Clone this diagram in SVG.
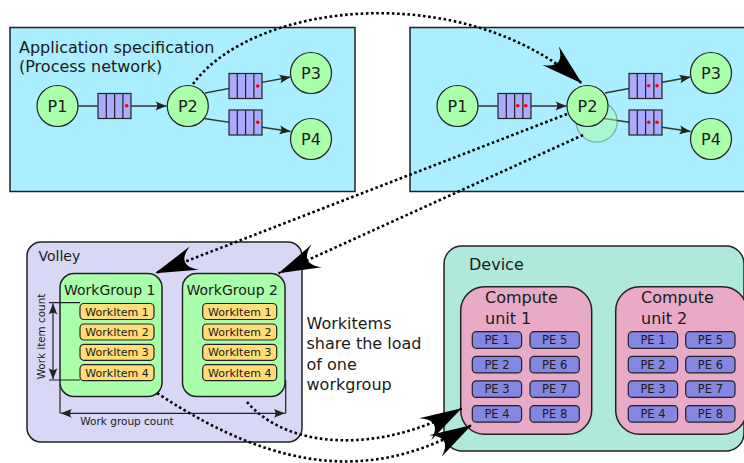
<svg xmlns="http://www.w3.org/2000/svg" xmlns:xlink="http://www.w3.org/1999/xlink" width="744" height="463" viewBox="0 0 744 463">
  <style>
    text { font-family: "DejaVu Sans", "Liberation Sans", sans-serif; fill: #1a1a1a; }
    .panel { fill: #aaeeff; stroke: #222; stroke-width: 1.5; }
    .proc { fill: #aaffaa; stroke: #222; stroke-width: 1.2; }
    .ghost { fill: #aaffaa; fill-opacity: 0.5; stroke: #222; stroke-opacity: 0.35; stroke-width: 1.2; }
    .qbox { fill: #aaaaff; stroke: #222; stroke-width: 1.2; }
    .token { fill: #ff0000; }
    .link { fill: none; stroke: #333; stroke-width: 1.3; }
    .dots { fill: none; stroke: #000; stroke-width: 2.6; stroke-dasharray: 2.6 2.6; }
    .volley { fill: #d8d8f6; stroke: #222; stroke-width: 1.5; }
    .wg { fill: #aaffaa; stroke: #222; stroke-width: 1.5; }
    .wi { fill: #ffdd77; stroke: #222; stroke-width: 1.2; }
    .device { fill: #aee9dc; stroke: #222; stroke-width: 1.5; }
    .cu { fill: #e8aac6; stroke: #222; stroke-width: 1.5; }
    .pe { fill: #8585e2; stroke: #222; stroke-width: 1.2; }
    .guide { fill: none; stroke: #222; stroke-width: 1.2; }
    .t16 { font-size: 16px; }
    .t14 { font-size: 14px; }
    .wit { font-size: 11px; text-anchor: middle; }
    .pet { font-size: 11.5px; text-anchor: middle; }
    .proct { font-size: 16px; text-anchor: middle; }
  </style>
  <defs>
    <!-- small concave arrowhead for the process links and measure lines -->
    <marker id="small" viewBox="-12 -5 13 10" refX="0" refY="0" markerWidth="13" markerHeight="10" markerUnits="userSpaceOnUse" orient="auto-start-reverse">
      <path d="M0,0 L-11,-4.4 Q-7.5,0 -11,4.4 Z" fill="#222"/>
    </marker>
    <!-- large concave arrowhead for the dotted mapping arrows -->
    <marker id="big" viewBox="-44 -14 46 28" refX="0" refY="0" markerWidth="46" markerHeight="28" markerUnits="userSpaceOnUse" orient="auto">
      <path d="M0,0 L-42,-12.5 Q-22,0 -42,12.5 Z" fill="#000"/>
    </marker>
    <!-- FIFO queue: four slots -->
    <g id="queue">
      <rect class="qbox" x="0" y="0" width="33" height="25"/>
      <path d="M8.3,0 V25 M16.6,0 V25 M24.9,0 V25" stroke="#222" stroke-width="1.2"/>
    </g>
  </defs>

  <!-- Application specification panel -->
  <g id="spec">
    <rect class="panel" x="10" y="27.5" width="345" height="164"/>
    <text class="t16" x="19" y="53">Application specification</text>
    <text class="t16" x="19" y="72">(Process network)</text>
    <path class="link" d="M78,106 H166.5" marker-end="url(#small)"/>
    <path class="link" d="M205,93 L290.5,77" marker-end="url(#small)"/>
    <path class="link" d="M204,118.5 L290.5,131.5" marker-end="url(#small)"/>
    <use xlink:href="#queue" x="98" y="93.5"/>
    <circle class="token" cx="126.7" cy="105.8" r="1.8"/>
    <use xlink:href="#queue" x="229" y="73.5"/>
    <circle class="token" cx="257.7" cy="86" r="1.8"/>
    <use xlink:href="#queue" x="229" y="110"/>
    <circle class="token" cx="257.7" cy="122.3" r="1.8"/>
    <g id="spec-p1"><circle class="proc" cx="57.5" cy="106" r="20.5"/><text class="proct" x="57.5" y="112">P1</text></g>
    <g id="spec-p2"><circle class="proc" cx="187.8" cy="106" r="20.5"/><text class="proct" x="187.8" y="112">P2</text></g>
    <g id="spec-p3"><circle class="proc" cx="311" cy="73" r="20.5"/><text class="proct" x="311" y="79">P3</text></g>
    <g id="spec-p4"><circle class="proc" cx="311" cy="139" r="20.5"/><text class="proct" x="311" y="145">P4</text></g>
  </g>

  <!-- Running process network panel -->
  <g id="running">
    <rect class="panel" x="410" y="27.5" width="345" height="164"/>
    <path class="link" d="M478,106 H566.5" marker-end="url(#small)"/>
    <path class="link" d="M605,93 L690.5,77" marker-end="url(#small)"/>
    <path class="link" d="M604,118.5 L690.5,131.5" marker-end="url(#small)"/>
    <use xlink:href="#queue" x="498" y="93.5"/>
    <circle class="token" cx="517.7" cy="105.8" r="1.8"/>
    <circle class="token" cx="525.7" cy="105.8" r="1.8"/>
    <use xlink:href="#queue" x="629" y="73.5"/>
    <circle class="token" cx="648.7" cy="85.7" r="1.8"/>
    <circle class="token" cx="657" cy="85.7" r="1.8"/>
    <use xlink:href="#queue" x="629" y="110"/>
    <circle class="token" cx="648.7" cy="122.3" r="1.8"/>
    <circle class="token" cx="657" cy="122.3" r="1.8"/>
    <g id="run-p1"><circle class="proc" cx="457.5" cy="106" r="20.5"/><text class="proct" x="457.5" y="112">P1</text></g>
    <g id="run-p2-copy"><circle class="ghost" cx="596.7" cy="121.7" r="20.5"/></g>
    <g id="run-p2"><circle class="proc" cx="587.5" cy="106" r="20.5"/><text class="proct" x="587.5" y="112">P2</text></g>
    <g id="run-p3"><circle class="proc" cx="711" cy="73" r="20.5"/><text class="proct" x="711" y="79">P3</text></g>
    <g id="run-p4"><circle class="proc" cx="711" cy="139" r="20.5"/><text class="proct" x="711" y="145">P4</text></g>
  </g>

  <!-- Volley: work groups and work items -->
  <g id="volley">
    <rect class="volley" x="27" y="242" width="275" height="200" rx="14"/>
    <text class="t14" x="38.5" y="261">Volley</text>
    <g id="wg1">
      <rect class="wg" x="60" y="273.5" width="102" height="123" rx="14"/>
      <text class="t14" x="64" y="295">WorkGroup 1</text>
      <rect class="wi" x="80" y="303.5" width="74" height="16" rx="4"/><text class="wit" x="117" y="315.5">WorkItem 1</text>
      <rect class="wi" x="80" y="324" width="74" height="16" rx="4"/><text class="wit" x="117" y="336">WorkItem 2</text>
      <rect class="wi" x="80" y="344.3" width="74" height="16" rx="4"/><text class="wit" x="117" y="356.3">WorkItem 3</text>
      <rect class="wi" x="80" y="364.7" width="74" height="16" rx="4"/><text class="wit" x="117" y="376.7">WorkItem 4</text>
    </g>
    <g id="wg2">
      <rect class="wg" x="182.5" y="273.5" width="102.5" height="123" rx="14"/>
      <text class="t14" x="186.5" y="295">WorkGroup 2</text>
      <rect class="wi" x="202.7" y="303.5" width="74" height="16" rx="4"/><text class="wit" x="239.7" y="315.5">WorkItem 1</text>
      <rect class="wi" x="202.7" y="324" width="74" height="16" rx="4"/><text class="wit" x="239.7" y="336">WorkItem 2</text>
      <rect class="wi" x="202.7" y="344.3" width="74" height="16" rx="4"/><text class="wit" x="239.7" y="356.3">WorkItem 3</text>
      <rect class="wi" x="202.7" y="364.7" width="74" height="16" rx="4"/><text class="wit" x="239.7" y="376.7">WorkItem 4</text>
    </g>
    <!-- work item count measure -->
    <path class="guide" d="M49,302.7 H80 M49,380 H80"/>
    <path class="guide" d="M53,303.5 V379.2" marker-start="url(#small)" marker-end="url(#small)"/>
    <text font-size="10.4" text-anchor="middle" transform="translate(44.5,336.5) rotate(-90)">Work item count</text>
    <!-- work group count measure -->
    <path class="guide" d="M60,384 V413.5 M285.7,380 V413.5"/>
    <path class="guide" d="M60.8,413.3 H284.9" marker-start="url(#small)" marker-end="url(#small)"/>
    <text font-size="10.5" text-anchor="middle" x="127" y="425">Work group count</text>
  </g>

  <g id="note">
    <text class="t16" x="306.5" y="328.5">Workitems</text>
    <text class="t16" x="306.5" y="349">share the load</text>
    <text class="t16" x="306.5" y="369.5">of one</text>
    <text class="t16" x="306.5" y="390">workgroup</text>
  </g>

  <!-- Device with compute units and processing elements -->
  <g id="device">
    <rect class="device" x="444" y="246" width="300" height="205" rx="18"/>
    <text class="t16" x="469" y="270">Device</text>
    <g id="cu1">
      <rect class="cu" x="460.7" y="286.7" width="131" height="147.6" rx="24"/>
      <text class="t16" x="485" y="303.3">Compute</text>
      <text class="t16" x="485" y="324">unit 1</text>
      <rect class="pe" x="472.3" y="331.7" width="49.3" height="16.6" rx="4"/><text class="pet" x="497" y="344.2">PE 1</text>
      <rect class="pe" x="472.3" y="356.3" width="49.3" height="16.6" rx="4"/><text class="pet" x="497" y="368.8">PE 2</text>
      <rect class="pe" x="472.3" y="380.8" width="49.3" height="16.6" rx="4"/><text class="pet" x="497" y="393.3">PE 3</text>
      <rect class="pe" x="472.3" y="405.6" width="49.3" height="16.6" rx="4"/><text class="pet" x="497" y="418.1">PE 4</text>
      <rect class="pe" x="530" y="331.7" width="49.3" height="16.6" rx="4"/><text class="pet" x="554.7" y="344.2">PE 5</text>
      <rect class="pe" x="530" y="356.3" width="49.3" height="16.6" rx="4"/><text class="pet" x="554.7" y="368.8">PE 6</text>
      <rect class="pe" x="530" y="380.8" width="49.3" height="16.6" rx="4"/><text class="pet" x="554.7" y="393.3">PE 7</text>
      <rect class="pe" x="530" y="405.6" width="49.3" height="16.6" rx="4"/><text class="pet" x="554.7" y="418.1">PE 8</text>
    </g>
    <g id="cu2">
      <rect class="cu" x="615.7" y="286.7" width="131" height="147.6" rx="24"/>
      <text class="t16" x="641" y="303.3">Compute</text>
      <text class="t16" x="641" y="324">unit 2</text>
      <rect class="pe" x="628.3" y="331.7" width="49.3" height="16.6" rx="4"/><text class="pet" x="653" y="344.2">PE 1</text>
      <rect class="pe" x="628.3" y="356.3" width="49.3" height="16.6" rx="4"/><text class="pet" x="653" y="368.8">PE 2</text>
      <rect class="pe" x="628.3" y="380.8" width="49.3" height="16.6" rx="4"/><text class="pet" x="653" y="393.3">PE 3</text>
      <rect class="pe" x="628.3" y="405.6" width="49.3" height="16.6" rx="4"/><text class="pet" x="653" y="418.1">PE 4</text>
      <rect class="pe" x="685.7" y="331.7" width="49.3" height="16.6" rx="4"/><text class="pet" x="710.4" y="344.2">PE 5</text>
      <rect class="pe" x="685.7" y="356.3" width="49.3" height="16.6" rx="4"/><text class="pet" x="710.4" y="368.8">PE 6</text>
      <rect class="pe" x="685.7" y="380.8" width="49.3" height="16.6" rx="4"/><text class="pet" x="710.4" y="393.3">PE 7</text>
      <rect class="pe" x="685.7" y="405.6" width="49.3" height="16.6" rx="4"/><text class="pet" x="710.4" y="418.1">PE 8</text>
    </g>
  </g>

  <!-- Dotted mapping arrows -->
  <g id="connectors">
    <path class="dots" d="M193,84 C255,0 465,-20 582,83.5" marker-end="url(#big)"/>
    <path class="dots" d="M567,114 L155,273.3" marker-end="url(#big)"/>
    <path class="dots" d="M583,135 L278.5,273.3" marker-end="url(#big)"/>
    <path class="dots" d="M157,393 C285,478 380,478 471.7,425" marker-end="url(#big)"/>
    <path class="dots" d="M247,402 C290,452 385,452 461.7,408.3" marker-end="url(#big)"/>
  </g>
</svg>
